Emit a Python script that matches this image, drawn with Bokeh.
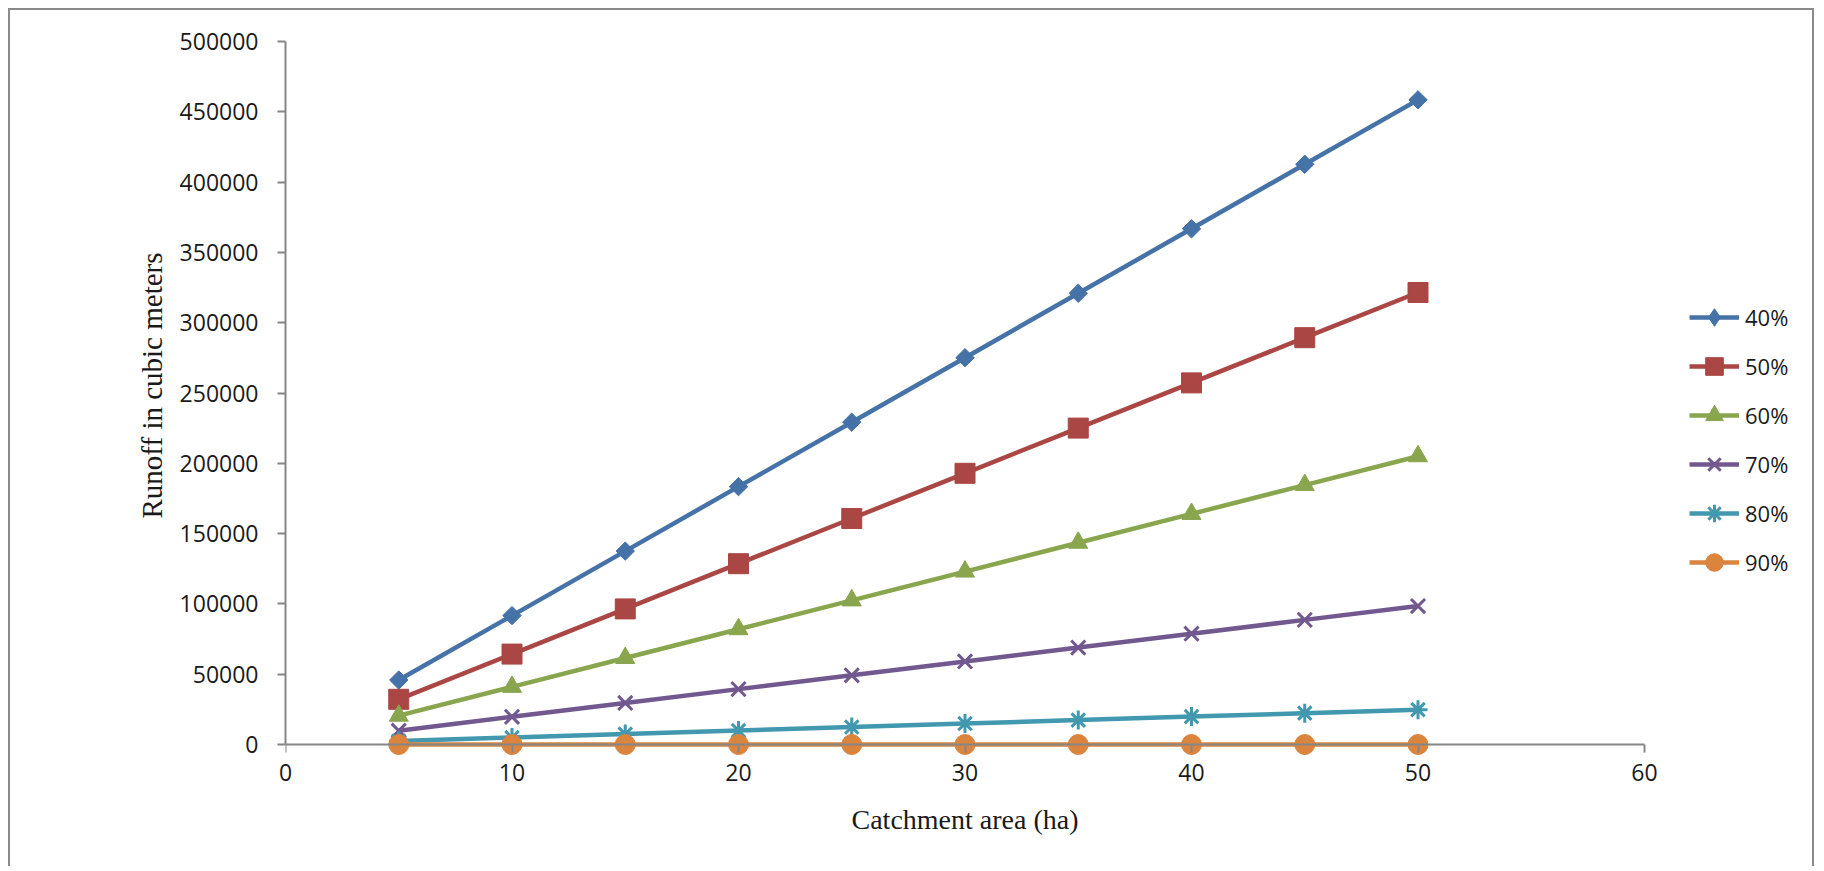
import math
from bokeh.plotting import figure
from bokeh.models import Legend, LegendItem, FixedTicker, Range1d, Title, LinearAxis
from bokeh.embed import file_html
from bokeh.resources import INLINE

area = [5, 10, 15, 20, 25, 30, 35, 40, 45, 50]
series_names = ["40%", "50%", "60%", "70%", "80%", "90%"]
runoff_40 = [45850, 91700, 137550, 183400, 229250, 275100, 320950, 366800, 412650, 458500]
runoff_50 = [32150, 64300, 96450, 128600, 160750, 192900, 225050, 257200, 289350, 321500]
runoff_60 = [20500, 41000, 61500, 82000, 102500, 123000, 143500, 164000, 184500, 205000]
runoff_70 = [9850, 19700, 29550, 39400, 49250, 59100, 68950, 78800, 88650, 98500]
runoff_80 = [2480, 4960, 7440, 9920, 12400, 14880, 17360, 19840, 22320, 24800]
runoff_90 = [0, 0, 0, 0, 0, 0, 0, 0, 0, 0]
x_ticks = [0, 10, 20, 30, 40, 50, 60]
y_ticks = [0, 50000, 100000, 150000, 200000, 250000, 300000, 350000, 400000, 450000, 500000]
x_title = "Catchment area (ha)"
y_title = "Runoff in cubic meters"

colors = ["#4572A7", "#AA4643", "#89A54E", "#71588F", "#4198AF", "#DB843D"]
all_series = [runoff_40, runoff_50, runoff_60, runoff_70, runoff_80, runoff_90]
# (plot marker, size, angle, legend marker)
markers = [("square", 13, math.pi / 4, "diamond"), ("square", 20, 0, "square"),
           ("triangle", 19, 0, "triangle"), ("x", 20, 0, "x"),
           ("asterisk", 19, 0, "asterisk"), ("circle", 20, 0, "circle")]

# layout (canvas pixels)
W, H = 1806, 858
LEFT, TOP = 275, 31
PAD = 12                            # room below y=0 so the markers on 0 are not clipped
BOTTOM = 124 - PAD
X_MAX, Y_MAX = 60, 500000
X_PX, Y_PX = 1359, 703.8            # pixel lengths of the two axes
FRAME_PX = W - LEFT                 # frame extends to the right edge (legend lives there)
x_end = X_MAX * FRAME_PX / X_PX
y_start = -Y_MAX * PAD / Y_PX

p = figure(width=W, height=H, output_backend="svg", toolbar_location=None,
           x_range=Range1d(0, x_end), y_range=Range1d(y_start, Y_MAX),
           min_border_left=LEFT, min_border_right=0, min_border_top=TOP,
           min_border_bottom=BOTTOM)
p.styles = {"margin-left": "8px", "margin-top": "8px",
            "border-left": "2px solid #8a8a8a", "border-top": "2px solid #8a8a8a",
            "border-right": "2px solid #8a8a8a"}
p.outline_line_color = None
p.xgrid.visible = False
p.ygrid.visible = False
p.background_fill_color = "white"
p.border_fill_color = "white"

nan = float("nan")
items = []
for name, ys, col, (mk, sz, ang, lmk) in zip(series_names, all_series, colors, markers):
    r1 = p.line(area, ys, line_color=col, line_width=4.5)
    if mk in ("x", "asterisk"):
        r2 = p.scatter(area, ys, marker=mk, size=sz, line_color=col, line_width=3, fill_color=None)
    else:
        r2 = p.scatter(area, ys, marker=mk, size=sz, angle=ang, fill_color=col, line_color=col)
    if lmk != mk:
        # legend-only marker (not drawn in the plot area)
        r2 = p.scatter([nan], [nan], marker=lmk, fill_color=col, line_color=col)
    items.append(LegendItem(label=name, renderers=[r1, r2]))

legend = Legend(items=items, location=(1404, 160 + PAD), glyph_width=50, glyph_height=44,
                label_height=44, spacing=5, label_standoff=6, padding=0, margin=0,
                border_line_color=None, background_fill_alpha=0,
                label_text_font="Open Sans", label_text_font_size="22px",
                label_text_color="#1a1a1a")
p.add_layout(legend, "center")

def style_axis(ax):
    ax.axis_line_color = "#868686"
    ax.axis_line_width = 2
    ax.major_tick_line_color = "#868686"
    ax.major_tick_line_width = 2
    ax.minor_tick_line_color = None
    ax.major_tick_in = 0
    ax.major_tick_out = 8
    ax.major_label_text_font = "Open Sans"
    ax.major_label_text_font_size = "23px"
    ax.major_label_text_color = "#1a1a1a"

style_axis(p.xaxis[0])
style_axis(p.yaxis[0])

# x axis line and ticks drawn at y = 0
p.xaxis[0].bounds = (0, X_MAX)
p.xaxis[0].fixed_location = 0
p.xaxis[0].ticker = FixedTicker(ticks=x_ticks)
p.xaxis[0].major_label_text_color = None

# x tick labels (second axis, labels only)
xlab = LinearAxis(ticker=FixedTicker(ticks=x_ticks), bounds=(0, X_MAX))
style_axis(xlab)
xlab.axis_line_color = None
xlab.major_tick_line_color = None
xlab.major_tick_out = 0
xlab.major_label_standoff = 7
p.add_layout(xlab, "below")

p.yaxis.bounds = (0, Y_MAX)
p.yaxis.ticker = FixedTicker(ticks=y_ticks)
p.yaxis.formatter.use_scientific = False
p.yaxis.major_label_standoff = 19

# axis titles placed under / beside the 0..60 and 0..500000 axes
xt = Title(text=x_title, align="left", offset=566, vertical_align="top", standoff=40,
           text_font="Liberation Serif", text_font_size="28px", text_font_style="normal",
           text_color="#1a1a1a")
p.add_layout(xt, "below")
yt = Title(text=y_title, align="left", offset=238, vertical_align="bottom", standoff=18,
           text_font="Liberation Serif", text_font_size="29px", text_font_style="normal",
           text_color="#1a1a1a")
p.add_layout(yt, "left")

open("out.html", "w").write(file_html(p, INLINE))
